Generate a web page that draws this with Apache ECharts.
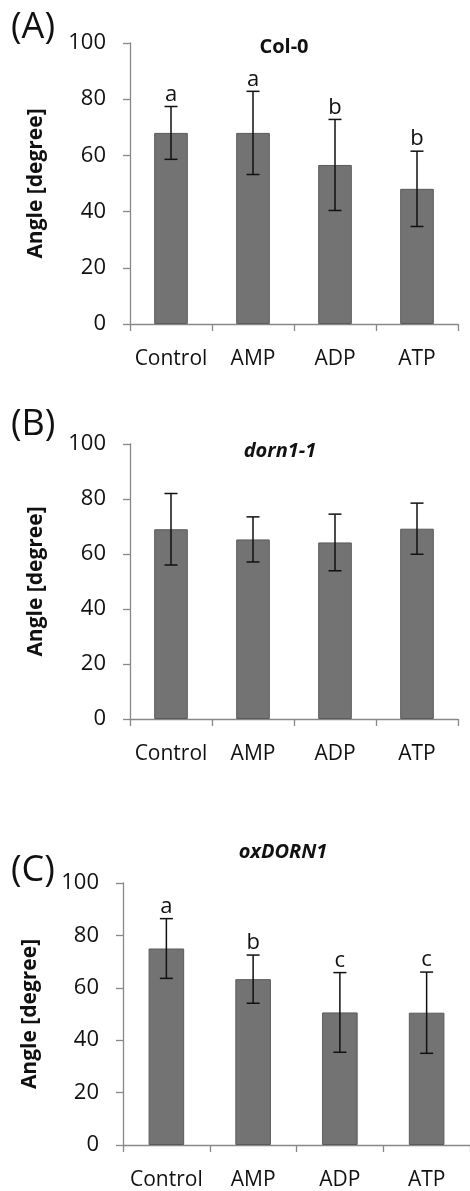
<!DOCTYPE html>
<html>
<head>
<meta charset="utf-8">
<script src="https://cdn.jsdelivr.net/npm/echarts@6/dist/echarts.min.js"></script>
<style>
  html, body { margin: 0; padding: 0; background: #fff; }
  #chart { width: 470px; height: 1191px; }
</style>
</head>
<body>
<div id="chart"></div>
<script>
const categories = ['Control', 'AMP', 'ADP', 'ATP']
const yTicks = [0, 20, 40, 60, 80, 100]

// (A) Col-0
const colMean = [68.0, 68.0, 56.6, 48.1]
const colErr = [9.4, 14.8, 16.2, 13.4]
const colLetters = ['a', 'a', 'b', 'b']

// (B) dorn1-1
const dornMean = [69.0, 65.3, 64.2, 69.2]
const dornErr = [13.0, 8.2, 10.3, 9.3]

// (C) oxDORN1
const oxMean = [75.0, 63.3, 50.6, 50.5]
const oxErr = [11.4, 9.2, 15.2, 15.5]
const oxLetters = ['a', 'b', 'c', 'c']

const FONT = '"Open Sans", "Liberation Sans", sans-serif'
const TEXT = '#111'
const AXIS = '#888'

const panels = [
  { mean: colMean, err: colErr, letters: colLetters, left: 130, top: 43, height: 281, width: 328,
    tag: '(A)', tagY: 28, title: 'Col-0', titleX: 284, titleY: 47, italic: false, nameGap: 83 },
  { mean: dornMean, err: dornErr, letters: null, left: 130, top: 444, height: 275, width: 328,
    tag: '(B)', tagY: 425, title: 'dorn1-1', titleX: 280, titleY: 451, italic: true, nameGap: 83 },
  { mean: oxMean, err: oxErr, letters: oxLetters, left: 123, top: 883, height: 263, width: 347,
    tag: '(C)', tagY: 871, title: 'oxDORN1', titleX: 283, titleY: 852, italic: true, nameGap: 82 }
]

const grid = [], xAxis = [], yAxis = [], series = [], graphic = []

panels.forEach((p, i) => {
  grid.push({ left: p.left, top: p.top, width: p.width, height: p.height })
  xAxis.push({
    type: 'category', gridIndex: i, data: categories,
    axisLine: { lineStyle: { color: AXIS, width: 1.3 } },
    axisTick: { show: true, length: 7, alignWithLabel: false, lineStyle: { color: AXIS, width: 1.3 } },
    axisLabel: { interval: 0, color: TEXT, fontFamily: FONT, fontSize: 21, margin: 25 }
  })
  yAxis.push({
    type: 'value', gridIndex: i, min: 0, max: 100, interval: 20,
    name: 'Angle [degree]', nameLocation: 'middle', nameGap: p.nameGap,
    nameTextStyle: { color: TEXT, fontFamily: FONT, fontSize: 21, fontWeight: 'bold' },
    axisLine: { show: true, lineStyle: { color: AXIS, width: 1.3 } },
    axisTick: { show: true, length: 7, lineStyle: { color: AXIS, width: 1.3 } },
    axisLabel: { color: TEXT, fontFamily: FONT, fontSize: 22, margin: 24,
      padding: [5, 0, 0, 0],
      formatter: v => yTicks.includes(v) ? String(v) : '' },
    splitLine: { show: false }
  })
  series.push({
    type: 'bar', xAxisIndex: i, yAxisIndex: i, barWidth: '41%',
    data: p.mean,
    itemStyle: { color: '#737373', borderColor: '#5a5a5a', borderWidth: 1 },
    silent: true
  })
  series.push({
    type: 'custom', xAxisIndex: i, yAxisIndex: i,
    data: p.mean.map((m, j) => [j, m, p.err[j]]),
    renderItem: (params, api) => {
      const x = api.value(0), m = api.value(1), e = api.value(2)
      const hi = api.coord([x, m + e])
      const lo = api.coord([x, m - e])
      const cap = 6.5
      const ls = { stroke: '#111', lineWidth: 1.5 }
      const children = [
        { type: 'line', shape: { x1: hi[0], y1: hi[1], x2: lo[0], y2: lo[1] }, style: ls },
        { type: 'line', shape: { x1: hi[0] - cap, y1: hi[1], x2: hi[0] + cap, y2: hi[1] }, style: ls },
        { type: 'line', shape: { x1: lo[0] - cap, y1: lo[1], x2: lo[0] + cap, y2: lo[1] }, style: ls }
      ]
      if (p.letters) {
        children.push({
          type: 'text', x: hi[0], y: hi[1] - 1,
          style: { text: p.letters[params.dataIndex], fill: TEXT, font: '22px ' + FONT,
            align: 'center', verticalAlign: 'bottom' }
        })
      }
      return { type: 'group', children }
    },
    silent: true, z: 5
  })
  graphic.push({
    type: 'text', x: 11, y: p.tagY,
    style: { text: p.tag, fill: TEXT, font: '36px ' + FONT, align: 'left', verticalAlign: 'middle' }
  })
  graphic.push({
    type: 'text', x: p.titleX, y: p.titleY,
    style: { text: p.title, fill: TEXT, font: (p.italic ? 'italic ' : '') + 'bold 20px ' + FONT,
      align: 'center', verticalAlign: 'middle' }
  })
})

const chart = echarts.init(document.getElementById('chart'))
chart.setOption({ animation: false, grid, xAxis, yAxis, series, graphic })
</script>
</body>
</html>
